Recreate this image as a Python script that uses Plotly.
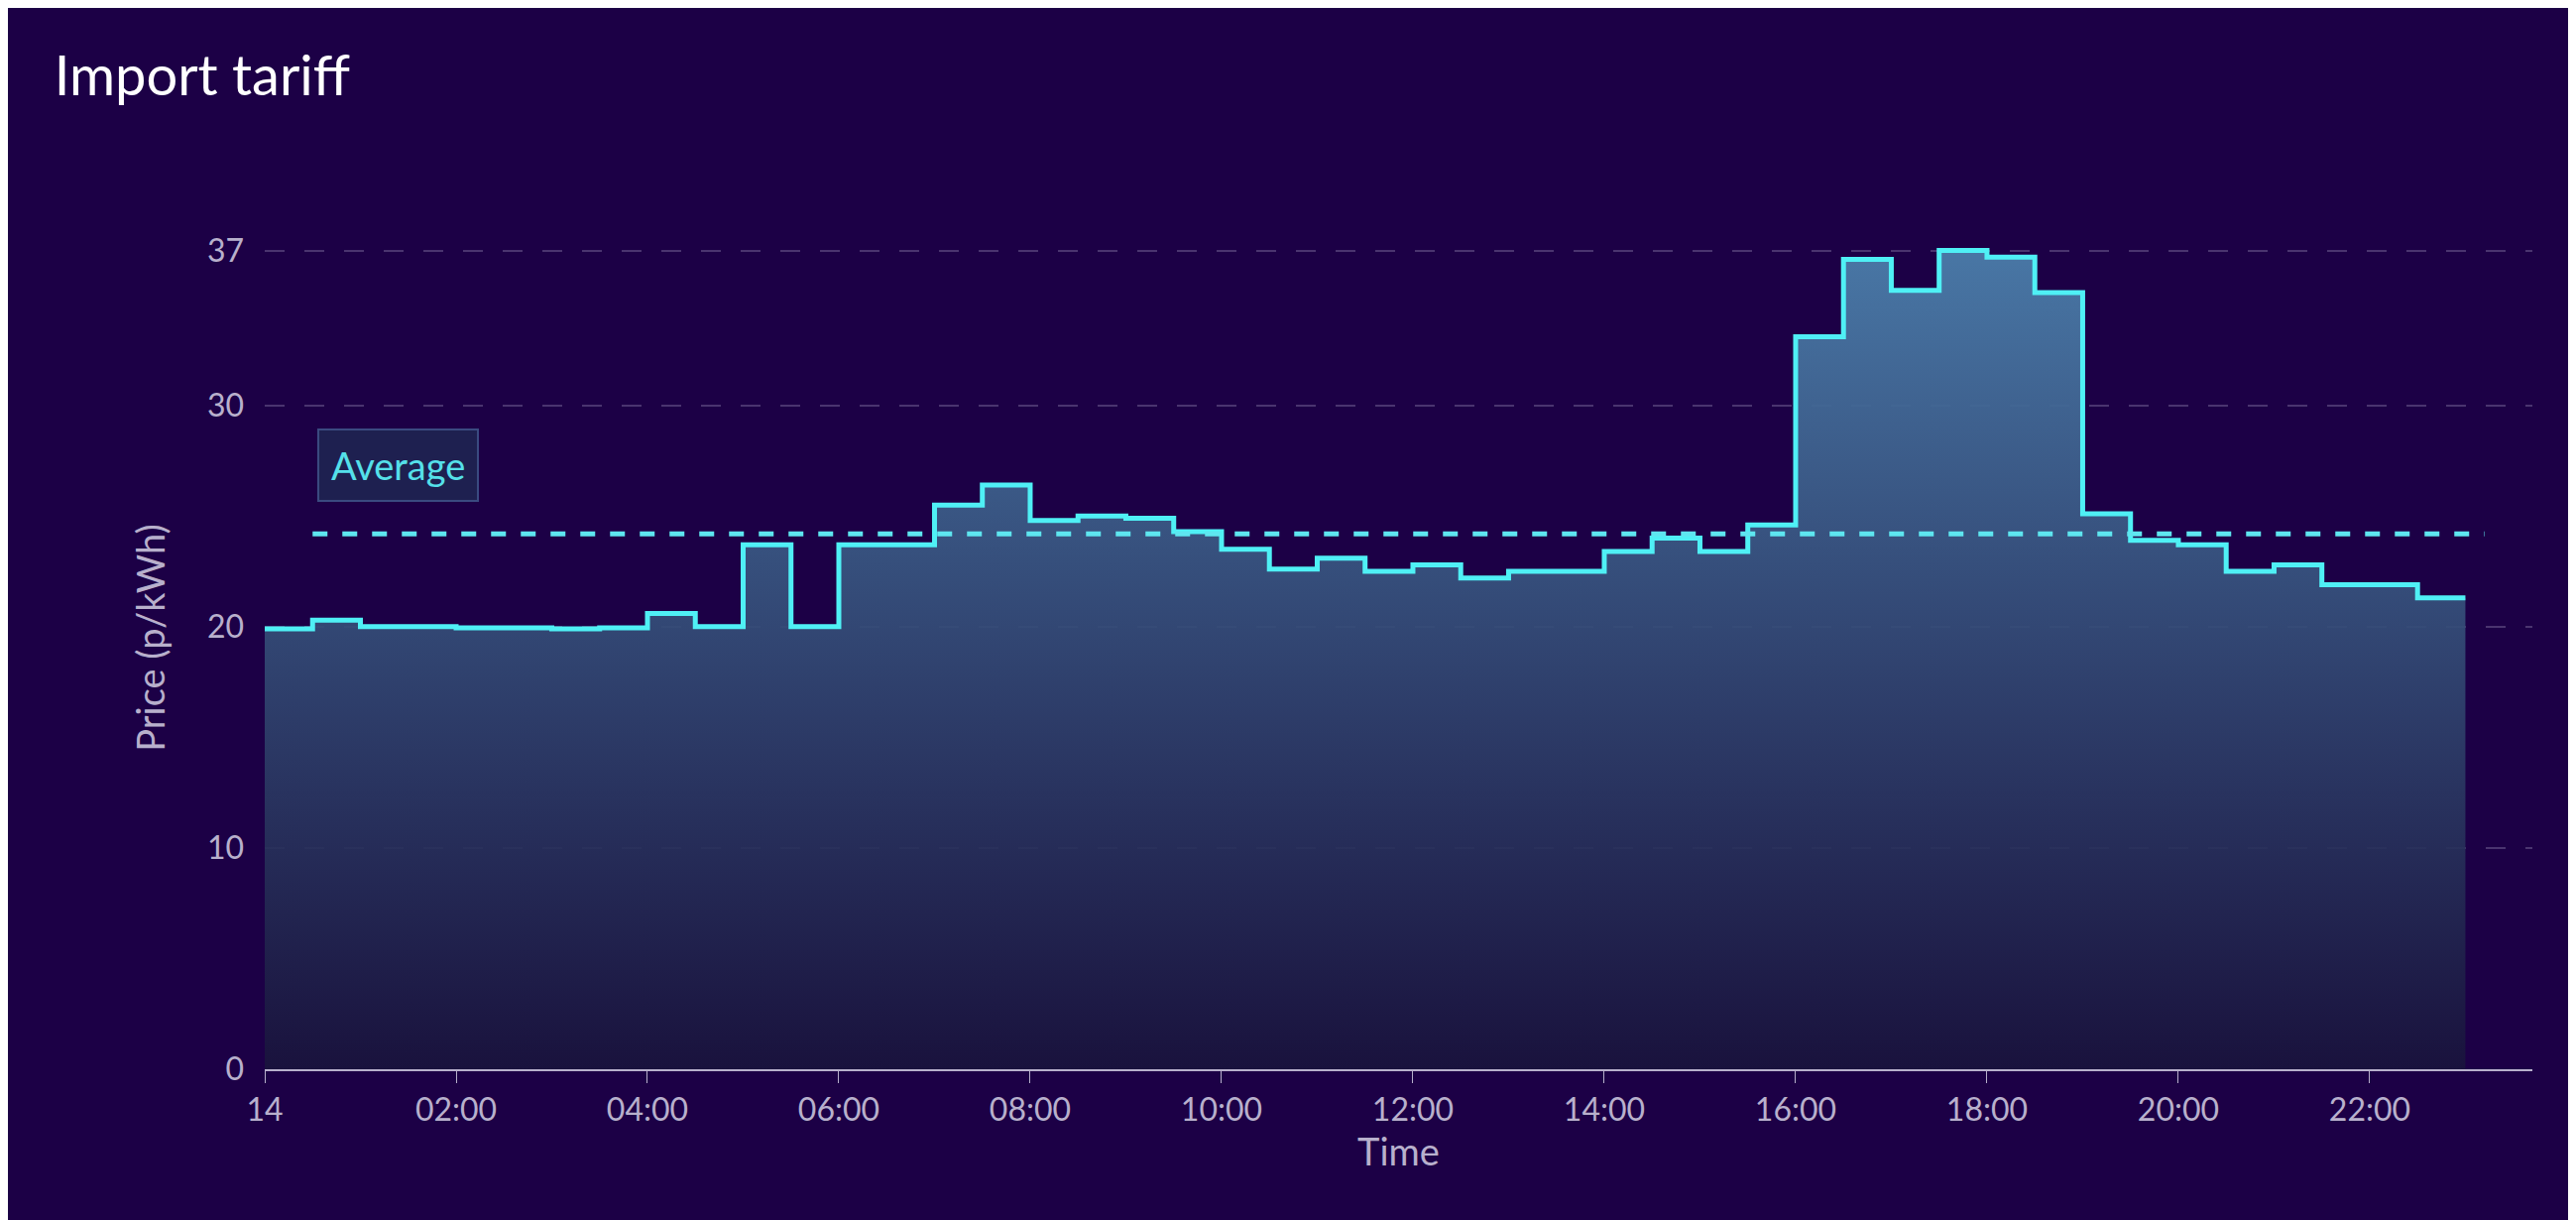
import plotly.graph_objects as go

prices = [19.9,20.3,20.0,20.0,19.95,19.95,19.9,19.95,20.6,20.0,23.7,20.0,23.7,23.7,25.5,26.4,
          24.8,25.0,24.9,24.3,23.5,22.6,23.1,22.5,22.8,22.2,22.5,22.5,23.4,24.0,23.4,24.6,
          33.1,36.6,35.2,37.0,36.7,35.1,25.1,23.9,23.7,22.5,22.8,21.9,21.9,21.3]
hours = [i*0.5 for i in range(len(prices))]
average = 24.2
tick_vals = [0,2,4,6,8,10,12,14,16,18,20,22]
tick_text = ["14","02:00","04:00","06:00","08:00","10:00","12:00","14:00","16:00","18:00","20:00","22:00"]
y_ticks = [0,10,20,30,37]

xs = hours + [23]
ys = prices + [prices[-1]]

fig = go.Figure()
fig.add_trace(go.Scatter(x=xs, y=ys, mode="lines", line=dict(shape="hv", color="#4ff0f5", width=5),
    fill="tozeroy",
    fillgradient=dict(type="vertical", colorscale=[[0,"rgba(25,20,60,0.9)"],[1,"rgba(75,125,170,0.95)"]]),
    hoverinfo="skip"))
fig.add_trace(go.Scatter(x=[0.5,23.2], y=[average,average], mode="lines",
    line=dict(color="#5ee6f0", width=5, dash="dash"), hoverinfo="skip"))
fig.add_annotation(x=0.55, y=27.3, xanchor="left", text="Average", showarrow=False,
    font=dict(color="#55e0ea", size=38, family="Lato"), bgcolor="#1e2050",
    bordercolor="#3a4a80", borderwidth=2, borderpad=12)

fig.update_layout(
    width=2598, height=1230, showlegend=False,
    paper_bgcolor="#1c0046", plot_bgcolor="#1c0046",
    margin=dict(l=259, r=52, t=200, b=160),
    title=dict(text="Import tariff", x=0.018, y=0.96, xanchor="left", yanchor="top",
               font=dict(size=56, color="white", family="Lato")),
    font=dict(family="Lato", color="#b8b0cc", size=32),
)
fig.update_xaxes(range=[0,23.7], tickvals=tick_vals, ticktext=tick_text, showgrid=False,
    showline=True, linecolor="#b8b0cc", linewidth=2, ticks="outside", ticklen=12,
    tickcolor="#b8b0cc", title=dict(text="Time", standoff=10), zeroline=False)
fig.update_yaxes(range=[0,39], tickvals=y_ticks, showgrid=True, gridcolor="rgba(160,150,190,0.35)",
    griddash="20px,20px", gridwidth=2, zeroline=False, ticks="", ticklabelstandoff=20,
    title=dict(text="Price (p/kWh)", standoff=30), showline=False)
fig.write_html("out.html")
